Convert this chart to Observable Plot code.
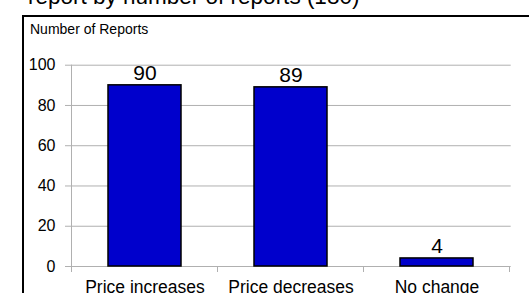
<!DOCTYPE html>
<html>
<head>
<meta charset="utf-8">
<script src="https://cdn.jsdelivr.net/npm/d3@7"></script>
<script src="https://cdn.jsdelivr.net/npm/@observablehq/plot@0.6"></script>
<style>
  html, body { margin: 0; padding: 0; background: #fff; }
  #wrap { position: relative; width: 529px; height: 293px; overflow: hidden; font-family: "Liberation Sans", Arial, sans-serif; color: #000; }
  #chart { position: absolute; left: 0; top: 0; }
  .title { position: absolute; left: 28px; top: -13.6px; font-size: 22.5px; line-height: 22px; white-space: nowrap; }
  .frame { position: absolute; left: 22px; top: 15px; width: 1000px; height: 1000px; border-left: 2px solid #000; border-top: 2px solid #000; box-sizing: border-box; }
  .ylabel { position: absolute; left: 30px; top: 21.6px; font-size: 14px; line-height: 14px; white-space: nowrap; }
</style>
</head>
<body>
<div id="wrap">
  <div id="chart"></div>
  <div class="frame"></div>
  <div class="title">report by number of reports (180)</div>
  <div class="ylabel">Number of Reports</div>
</div>
<script>
// Data
const categories = ["Price increases", "Price decreases", "No change"];
const values = [90, 89, 4];
const yTicks = [0, 20, 40, 60, 80, 100];
const gridTicks = [20, 40, 60, 80, 100];

const data = categories.map((c, i) => ({category: c, value: values[i]}));

const gridColor = "#b0b0b0";
const barColor = "#0000cc";

// Custom mark: y-axis line and category-boundary ticks on the x axis (Excel style)
function boundaryTicks(index, scales, values, dimensions) {
  const x = scales.x, y = scales.y;
  const {width, height, marginLeft, marginRight, marginTop, marginBottom} = dimensions;
  const n = categories.length;
  let bounds;
  if (typeof x.step === "function" && typeof x.bandwidth === "function") {
    const gap = (x.step() - x.bandwidth()) / 2;
    bounds = categories.map(c => x(c) - gap);
    bounds.push(x(categories[n - 1]) + x.bandwidth() + gap);
  } else {
    const w = (width - marginLeft - marginRight) / n;
    bounds = d3.range(n + 1).map(i => marginLeft + i * w);
  }
  const y0 = y(0), y1 = y(100);
  const g = d3.create("svg:g").attr("stroke", gridColor).attr("stroke-width", 1).attr("fill", "none");
  // y axis line
  g.append("line").attr("x1", bounds[0]).attr("x2", bounds[0]).attr("y1", y1).attr("y2", y0);
  // boundary ticks
  for (const b of bounds) {
    g.append("line").attr("x1", b).attr("x2", b).attr("y1", y0).attr("y2", y0 + 6);
  }
  return g.node();
}

const plot = Plot.plot({
  width: 529,
  height: 293,
  marginLeft: 70,
  marginRight: 18.3,
  marginTop: 64.7,
  marginBottom: 27,
  style: {background: "transparent", fontFamily: "Liberation Sans, Arial, sans-serif", color: "#000"},
  x: {domain: categories, paddingInner: 0.5, paddingOuter: 0.25, label: null},
  y: {domain: [0, 100], label: null},
  marks: [
    Plot.gridY(gridTicks, {stroke: gridColor, strokeOpacity: 1}),
    Plot.ruleY([0], {stroke: gridColor}),
    boundaryTicks,
    Plot.axisY(yTicks, {tickSize: 5, tickPadding: 10, fontSize: 16, stroke: gridColor, fill: "#000", label: null}),
    Plot.axisX({tickSize: 0, tickPadding: 14, fontSize: 17.5, fill: "#000", label: null}),
    Plot.barY(data, {x: "category", y: "value", fill: barColor, stroke: "#000", strokeWidth: 1.5}),
    Plot.text(data, {x: "category", y: "value", text: d => String(d.value), lineAnchor: "bottom", dy: -5, fontSize: 21, fill: "#000"})
  ]
});
document.getElementById("chart").appendChild(plot);
</script>
</body>
</html>
